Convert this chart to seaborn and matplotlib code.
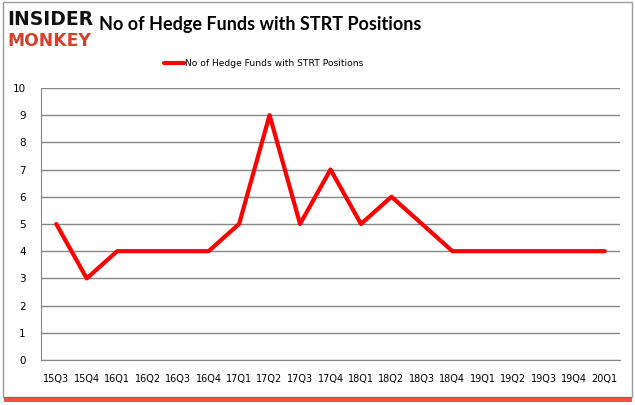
import matplotlib
matplotlib.use("Agg")
import matplotlib.pyplot as plt
import seaborn as sns
import pandas as pd
from matplotlib.patches import Rectangle

quarters = ["15Q3", "15Q4", "16Q1", "16Q2", "16Q3", "16Q4", "17Q1", "17Q2", "17Q3", "17Q4",
            "18Q1", "18Q2", "18Q3", "18Q4", "19Q1", "19Q2", "19Q3", "19Q4", "20Q1"]
funds = [5, 3, 4, 4, 4, 4, 5, 9, 5, 7, 5, 6, 5, 4, 4, 4, 4, 4, 4]
series_name = "No of Hedge Funds with STRT Positions"

df = pd.DataFrame({"quarter": quarters, "funds": funds})

sns.set_style("white")
plt.rcParams['font.family'] = ['DejaVu Sans']
plt.rcParams['text.color'] = 'black'
plt.rcParams['xtick.color'] = 'black'
plt.rcParams['ytick.color'] = 'black'

fig = plt.figure(figsize=(6.35, 4.05), dpi=100)
ax = fig.add_axes([0.0646, 0.111, 0.9118, 0.672])

sns.lineplot(data=df, x="quarter", y="funds", ax=ax, color="#ff0000", linewidth=3,
             label=series_name, sort=False)

ax.set_xlim(-0.5, len(quarters) - 0.5)
ax.set_ylim(0, 10)
ax.set_yticks(range(0, 11))
ax.set_xlabel("")
ax.set_ylabel("")
ax.yaxis.grid(True, color="#868686", linewidth=1)
ax.set_axisbelow(True)
for side in ["top", "right"]:
    ax.spines[side].set_visible(False)
ax.spines["left"].set_color("#868686")
ax.spines["bottom"].set_color("#868686")

# ticks on category boundaries, labels at centres
ax.set_xticks([i - 0.5 for i in range(len(quarters) + 1)], minor=False)
ax.set_xticklabels([])
ax.set_xticks(range(len(quarters)), minor=True)
ax.set_xticklabels(quarters, minor=True, fontsize=7)
ax.tick_params(axis="x", which="major", length=5, color="#868686", direction="out")
ax.tick_params(axis="x", which="minor", length=0, pad=10)
ax.tick_params(axis="y", length=5, color="#868686", labelcolor="black", labelsize=7.5, pad=6)

leg = ax.legend(loc="upper center", bbox_to_anchor=(0.385, 1.135), frameon=False,
                fontsize=6.6, handlelength=2.2, handletextpad=0.1)

fig.text(0.41, 0.94, "No of Hedge Funds with STRT Positions", ha="center", va="center",
         fontsize=13, fontweight="bold", color="black", family=["Lato", "DejaVu Sans"])

# logo
fig.text(0.012, 0.952, "INSIDER", ha="left", va="center", fontsize=13.5,
         fontweight="heavy", color="#111111", family=["DejaVu Sans"])
fig.text(0.012, 0.9, "MONKEY", ha="left", va="center", fontsize=12.3,
         fontweight="heavy", color="#d5402a", family=["DejaVu Sans"])

# outer frame
fig.patches.append(Rectangle((0.004, 0.02), 0.992, 0.975, transform=fig.transFigure,
                             fill=False, edgecolor="#9a9a9a", linewidth=1))
fig.patches.append(Rectangle((0.006, 0.008), 0.99, 0.012, transform=fig.transFigure,
                             facecolor="#ff2020", edgecolor="none", alpha=0.8))

fig.savefig("out.png", dpi=100)
